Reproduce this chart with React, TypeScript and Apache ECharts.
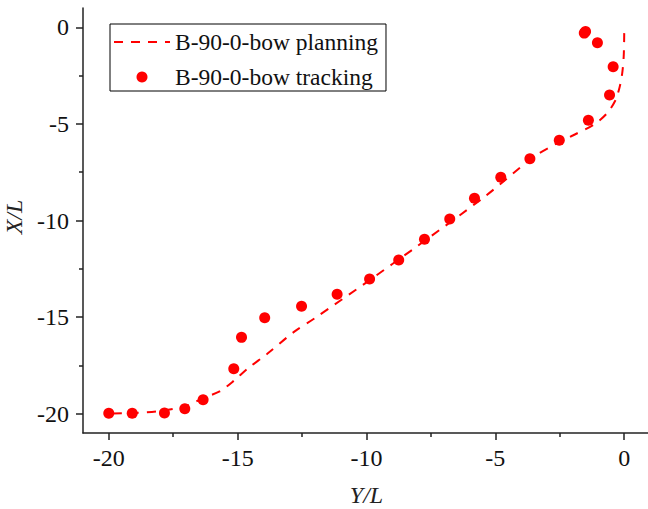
import React, { useEffect, useRef } from "react";
import * as echarts from "echarts";

const planningX = [0, -0.02, -0.08, -0.18, -0.35, -0.7, -1.2, -2.0, -2.6, -3.5, -5.4, -8.0, -10.0, -12.0, -12.8, -13.85, -14.6, -15.15, -15.7, -16.35, -17.05, -18.1, -19.0, -20.0];
const planningY = [-0.3, -1.5, -2.4, -3.1, -3.8, -4.5, -5.05, -5.6, -6.0, -6.7, -8.75, -11.3, -13.2, -15.05, -15.75, -16.9, -17.65, -18.3, -18.85, -19.2, -19.62, -19.88, -19.96, -20.0];

const trackingX = [-1.5, -1.55, -1.04, -0.43, -0.57, -1.39, -2.52, -3.66, -4.79, -5.81, -6.77, -7.75, -8.75, -9.88, -11.14, -12.52, -13.95, -14.85, -15.15, -16.34, -17.05, -17.84, -19.09, -20.0];
const trackingY = [-0.22, -0.3, -0.8, -2.04, -3.5, -4.81, -5.85, -6.8, -7.76, -8.85, -9.92, -10.97, -12.04, -13.03, -13.82, -14.44, -15.03, -16.05, -17.67, -19.28, -19.74, -19.96, -19.98, -19.98];

const majorTicks = [-20, -15, -10, -5, 0];
const minorTicks = [-17.5, -12.5, -7.5, -2.5];

const seriesNames = ["B-90-0-bow planning", "B-90-0-bow tracking"];

const FONT = "'Liberation Serif', 'Times New Roman', Times, serif";
const AXIS_COLOR = "#222";

function mainAxis(name: string, isX: boolean) {
  return {
    type: "value",
    min: -21,
    max: 1,
    name,
    nameLocation: "middle",
    nameGap: isX ? 50 : 57,
    nameTextStyle: { fontFamily: FONT, fontStyle: "italic", fontSize: 24, color: "#222", padding: isX ? 0 : [0, 0, 0, 7] },
    axisLine: { show: true, onZero: false, lineStyle: { color: AXIS_COLOR, width: 1.5 } },
    axisTick: { show: true, inside: false, length: 7, customValues: majorTicks, lineStyle: { color: AXIS_COLOR, width: 1.5 } },
    axisLabel: { customValues: majorTicks, fontFamily: FONT, fontSize: 24, color: "#111", margin: isX ? 13 : 14 },
    splitLine: { show: false },
  };
}

function minorAxis(isX: boolean) {
  return {
    type: "value",
    min: -21,
    max: 1,
    position: isX ? "bottom" : "left",
    axisLine: { show: false, onZero: false },
    axisTick: { show: true, inside: false, length: 4, customValues: minorTicks, lineStyle: { color: AXIS_COLOR, width: 1.5 } },
    axisLabel: { show: false },
    splitLine: { show: false },
  };
}

export default function App() {
  const ref = useRef<HTMLDivElement>(null);
  useEffect(() => {
    if (!ref.current) return;
    const chart = echarts.init(ref.current, null, { renderer: "svg" });
    const lineData = planningX.map((x, i) => [x, planningY[i]]);
    const scatterData = trackingX.map((x, i) => [x, trackingY[i]]);
    chart.setOption({
      animation: false,
      backgroundColor: "#fff",
      grid: { left: 83, top: 8, width: 567, height: 425, containLabel: false, outerBoundsMode: "none" },
      xAxis: [mainAxis("Y/L", true), minorAxis(true)],
      yAxis: [mainAxis("X/L", false), minorAxis(false)],
      legend: {
        left: 110,
        top: 24,
        orient: "vertical",
        borderColor: "#000",
        borderWidth: 1,
        borderRadius: 0,
        padding: [6, 8, 2, 3],
        itemGap: 11,
        itemWidth: 56,
        itemHeight: 11,
        textStyle: { fontFamily: FONT, fontSize: 23.5, color: "#111" },
        data: [
          { name: seriesNames[0], itemStyle: { color: "rgba(0,0,0,0)", borderWidth: 0 } },
          { name: seriesNames[1] },
        ],
      },
      series: [
        {
          name: seriesNames[0],
          type: "line",
          data: lineData,
          smooth: 0.3,
          symbol: "none",
          lineStyle: { color: "#ff0000", width: 2, type: [9, 8] },
          itemStyle: { color: "#ff0000" },
          z: 2,
        },
        {
          name: seriesNames[1],
          type: "scatter",
          data: scatterData,
          symbol: "circle",
          symbolSize: 11,
          itemStyle: { color: "#ff0000", opacity: 1 },
          z: 3,
        },
      ],
    });
    return () => chart.dispose();
  }, []);
  return <div ref={ref} style={{ position: "fixed", left: 0, top: 0, width: 648, height: 509 }} />;
}
